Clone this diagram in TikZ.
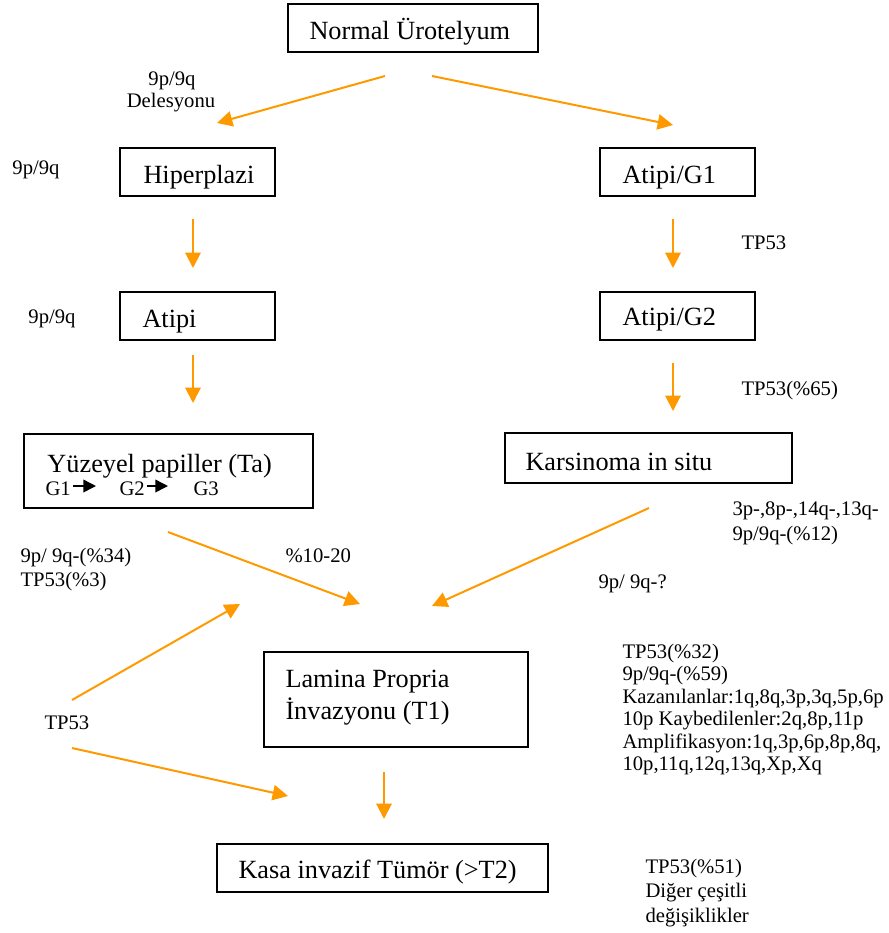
\documentclass[tikz,border=0pt]{standalone}
\usepackage{fontspec}
\setmainfont{Liberation Serif}
\usetikzlibrary{arrows.meta}
\definecolor{flowOrange}{RGB}{255,153,0}
\tikzset{every picture/.style={line width=0.75pt}}
\tikzset{
  flow/.style={draw=flowOrange, line width=1.5pt, -{Triangle[length=11.5pt,width=11.5pt]}},
  gstep/.style={draw=black, line width=1.1pt, -{Triangle[length=9.5pt,width=9.5pt]}},
  stage/.style={draw, line width=1.4pt, inner sep=0pt},
  boxtxt/.style={font=\fontsize{19.7}{24}\selectfont, inner sep=0pt, anchor=base west},
  note/.style={font=\fontsize{15.5}{18}\selectfont, inner sep=0pt, anchor=base west},
}
\begin{document}
\begin{tikzpicture}[x=0.75pt,y=0.75pt,yscale=-1,xscale=1]
  \useasboundingbox (0,0) rectangle (889,933);

  %Boxes
  \node[stage, minimum width=250*0.75pt, minimum height=48*0.75pt] (normal) at (413,28) {};
  \node[stage, minimum width=155*0.75pt, minimum height=48*0.75pt] (hiper) at (197.5,172) {};
  \node[stage, minimum width=155*0.75pt, minimum height=48*0.75pt] (atipiGa) at (677.5,172) {};
  \node[stage, minimum width=155*0.75pt, minimum height=48*0.75pt] (atipi) at (197.5,316) {};
  \node[stage, minimum width=155*0.75pt, minimum height=48*0.75pt] (atipiGb) at (677.5,316) {};
  \node[stage, minimum width=289*0.75pt, minimum height=74*0.75pt] (yuzeyel) at (168.5,471) {};
  \node[stage, minimum width=287*0.75pt, minimum height=50*0.75pt] (cis) at (648.5,458) {};
  \node[stage, minimum width=264*0.75pt, minimum height=95*0.75pt] (lamina) at (396,699.5) {};
  \node[stage, minimum width=331*0.75pt, minimum height=48*0.75pt] (kasa) at (382.5,868) {};

  %Box texts
  \node[boxtxt] (normaltxt) at (309,39) {Normal Ürotelyum};
  \node[boxtxt] (hipertxt) at (143,183) {Hiperplazi};
  \node[boxtxt] (atipiGatxt) at (622,183) {Atipi/G1};
  \node[boxtxt] (atipitxt) at (142,327) {Atipi};
  \node[boxtxt] (atipiGbtxt) at (622,325) {Atipi/G2};
  \node[boxtxt] (yuzeyeltxt) at (47,472) {Yüzeyel papiller (Ta)};
  \node[boxtxt] (cistxt) at (525,470) {Karsinoma in situ};
  \node[boxtxt] (laminatxta) at (285,687) {Lamina Propria};
  \node[boxtxt] (laminatxtb) at (285,719) {İnvazyonu (T1)};
  \node[boxtxt] (kasatxt) at (238,878) {Kasa invazif Tümör (>T2)};

  %Grades
  \node[note] (ga) at (45,495) {G1};
  \node[note] (gb) at (119,495) {G2};
  \node[note] (gc) at (193,495) {G3};
  \draw[gstep] ([shift={(2,-9)}]ga.base east) -- ([shift={(-23,-9)}]gb.base west);
  \draw[gstep] ([shift={(2,-9)}]gb.base east) -- ([shift={(-25,-9)}]gc.base west);

  %Labels
  \node[note, anchor=base] (delA) at (172,85) {9p/9q};
  \node[note, anchor=base] (delB) at (171,107) {Delesyonu};
  \node[note] (hiperlbl) at (12,174) {9p/9q};
  \node[note] (atipilbl) at (28,323) {9p/9q};
  \node[note] (gaLbl) at (741,249) {TP53};
  \node[note] (gbLbl) at (741,395) {TP53(\%65)};
  \node[note] (cisLblA) at (732,515) {3p-,8p-,14q-,13q-};
  \node[note] (cisLblB) at (732,540) {9p/9q-(\%12)};
  \node[note] (taLblA) at (20,562) {9p/ 9q-(\%34)};
  \node[note] (taLblB) at (20,586) {TP53(\%3)};
  \node[note] (taPct) at (285,562) {\%10-20};
  \node[note] (cisQ) at (598,588) {9p/ 9q-?};
  \node[note] (tpLeft) at (44,729) {TP53};
  \node[note] (tOneA) at (622,658) {TP53(\%32)};
  \node[note] (tOneB) at (622,680.5) {9p/9q-(\%59)};
  \node[note] (tOneC) at (622,703) {Kazanılanlar:1q,8q,3p,3q,5p,6p};
  \node[note] (tOneD) at (622,725.5) {10p Kaybedilenler:2q,8p,11p};
  \node[note] (tOneE) at (622,748) {Amplifikasyon:1q,3p,6p,8p,8q,};
  \node[note] (tOneF) at (622,770.5) {10p,11q,12q,13q,Xp,Xq};
  \node[note] (tTwoA) at (645,873) {TP53(\%51)};
  \node[note] (tTwoB) at (645,897.5) {Diğer çeşitli};
  \node[note] (tTwoC) at (645,922) {değişiklikler};

  %Arrow ends
  \coordinate (nL) at (385,76);   \coordinate (hT) at (217,123);
  \coordinate (nR) at (432,76);   \coordinate (gaT) at (673,125);
  \coordinate (hB) at (193,219);  \coordinate (aT) at (193,268);
  \coordinate (gaB) at (673,219); \coordinate (gbT) at (673,268);
  \coordinate (aB) at (193,355);  \coordinate (yT) at (193,403);
  \coordinate (gbB) at (673,363); \coordinate (cT) at (673,411);
  \coordinate (yB) at (168,532);  \coordinate (lL) at (360,604);
  \coordinate (cB) at (649,508);  \coordinate (lR) at (432,606);
  \coordinate (tpU) at (72,700);  \coordinate (tpUe) at (240,604);
  \coordinate (tpD) at (72,748);  \coordinate (tpDe) at (288,796);
  \coordinate (lB) at (384,772);  \coordinate (kT) at (384,819);

  %Arrows
  \draw[flow] (nL) -- (hT);
  \draw[flow] (nR) -- (gaT);
  \draw[flow] (hB) -- (aT);
  \draw[flow] (gaB) -- (gbT);
  \draw[flow] (aB) -- (yT);
  \draw[flow] (gbB) -- (cT);
  \draw[flow] (yB) -- (lL);
  \draw[flow] (cB) -- (lR);
  \draw[flow] (tpU) -- (tpUe);
  \draw[flow] (tpD) -- (tpDe);
  \draw[flow] (lB) -- (kT);
\end{tikzpicture}
\end{document}
